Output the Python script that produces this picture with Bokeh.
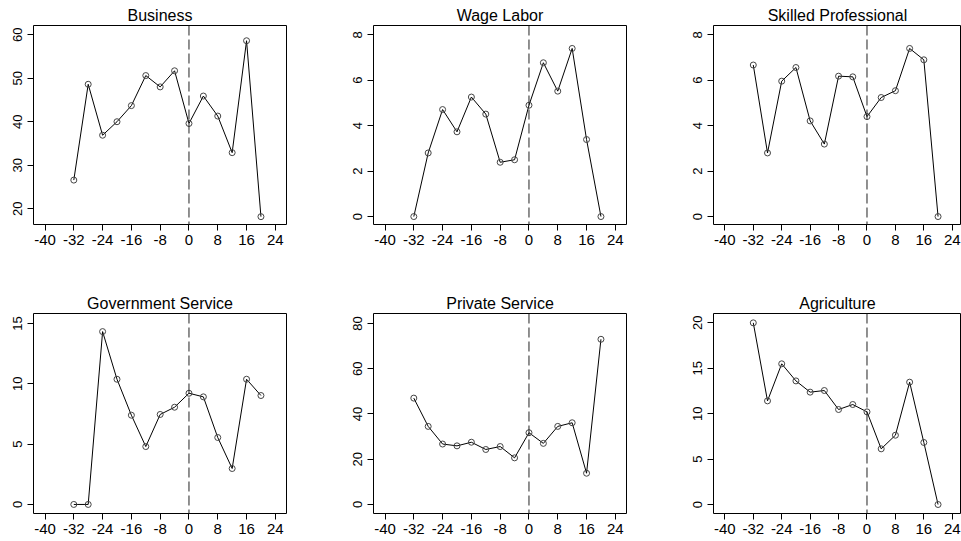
from bokeh.plotting import figure
from bokeh.layouts import column, row
from bokeh.models import FixedTicker, Span, Range1d
from bokeh.embed import file_html
from bokeh.resources import INLINE

# months relative to event
months = [-32, -28, -24, -20, -16, -12, -8, -4, 0, 4, 8, 12, 16, 20]
x_ticks = [-40, -32, -24, -16, -8, 0, 8, 16, 24]
x_tick_labels = ["-40", "-32", "-24", "-16", "-8", "0", "8", "16", "24"]

titles = ["Business", "Wage Labor", "Skilled Professional",
          "Government Service", "Private Service", "Agriculture"]

business = [26.6, 48.6, 36.9, 40.0, 43.7, 50.6, 48.0, 51.7, 39.6, 45.9, 41.3, 32.9, 58.6, 18.2]
wage_labor = [0.0, 2.8, 4.71, 3.73, 5.26, 4.51, 2.39, 2.5, 4.9, 6.77, 5.52, 7.4, 3.39, 0.0]
skilled_professional = [6.67, 2.8, 5.96, 6.56, 4.21, 3.19, 6.18, 6.15, 4.4, 5.24, 5.54, 7.4, 6.9, 0.0]
government_service = [0.0, 0.0, 14.33, 10.38, 7.4, 4.8, 7.46, 8.06, 9.22, 8.92, 5.55, 2.98, 10.38, 9.03]
private_service = [47.0, 34.5, 26.7, 25.9, 27.5, 24.3, 25.6, 20.6, 31.7, 27.0, 34.5, 36.1, 13.8, 73.0]
agriculture = [20.0, 11.41, 15.49, 13.61, 12.37, 12.55, 10.46, 11.01, 10.2, 6.13, 7.63, 13.47, 6.83, 0.0]

series = [business, wage_labor, skilled_professional,
          government_service, private_service, agriculture]

y_ticks = [[20, 30, 40, 50, 60], [0, 2, 4, 6, 8], [0, 2, 4, 6, 8],
           [0, 5, 10, 15], [0, 20, 40, 60, 80], [0, 5, 10, 15, 20]]
y_limits = [(16.4, 62.1), (-0.35, 8.41), (-0.35, 8.41),
            (-0.75, 15.83), (-4.0, 84.4), (-0.99, 21.03)]
x_limits = [(-43.2, 27.1), (-43.2, 27.1), (-43.2, 26.6)]

FONT = "Liberation Sans"

widths = [340, 340, 281]
heights = [288, 253]
border_lr = [(33, 54), (33, 54), (33, 0)]
border_tb = [(25, 64), (25, 28)]


def make_panel(i):
    r, c = divmod(i, 3)
    p = figure(width=widths[c], height=heights[r],
               x_range=Range1d(*x_limits[c]), y_range=Range1d(*y_limits[i]),
               output_backend="svg", toolbar_location=None, tools="",
               min_border_left=border_lr[c][0], min_border_right=border_lr[c][1],
               min_border_top=border_tb[r][0], min_border_bottom=border_tb[r][1],
               title=titles[i])
    p.title.text_font = FONT
    p.title.text_font_size = "16px"
    p.title.text_font_style = "normal"
    p.title.text_color = "black"
    p.title.align = "center"
    p.title.standoff = 3
    p.grid.visible = False
    p.outline_line_color = "black"
    p.outline_line_width = 1
    p.background_fill_color = "white"
    p.border_fill_color = "white"

    p.xaxis.ticker = FixedTicker(ticks=x_ticks)
    p.xaxis.major_label_overrides = dict(zip(x_ticks, x_tick_labels))
    p.yaxis.ticker = FixedTicker(ticks=y_ticks[i])
    for ax in (p.xaxis, p.yaxis):
        ax.axis_line_color = None
        ax.major_tick_line_color = "black"
        ax.major_tick_out = 6
        ax.major_tick_in = 0
        ax.minor_tick_line_color = None
        ax.major_label_text_font = FONT
        ax.major_label_text_color = "black"
    p.xaxis.major_label_text_font_size = "15px"
    p.xaxis.major_label_standoff = 4
    p.yaxis.major_label_text_font_size = "13px"
    p.yaxis.major_label_orientation = "vertical"
    p.yaxis.major_label_standoff = 5

    p.add_layout(Span(location=0, dimension="height", line_color="#222222",
                      line_dash="10 4", line_width=1))
    p.line(months, series[i], line_color="black", line_width=1)
    p.scatter(months, series[i], marker="circle", size=6, fill_color=None,
              line_color="#444444", line_width=1)
    return p


panels = [make_panel(i) for i in range(6)]
layout = column(row(*panels[:3]), row(*panels[3:]))

with open("out.html", "w") as f:
    f.write(file_html(layout, INLINE))
